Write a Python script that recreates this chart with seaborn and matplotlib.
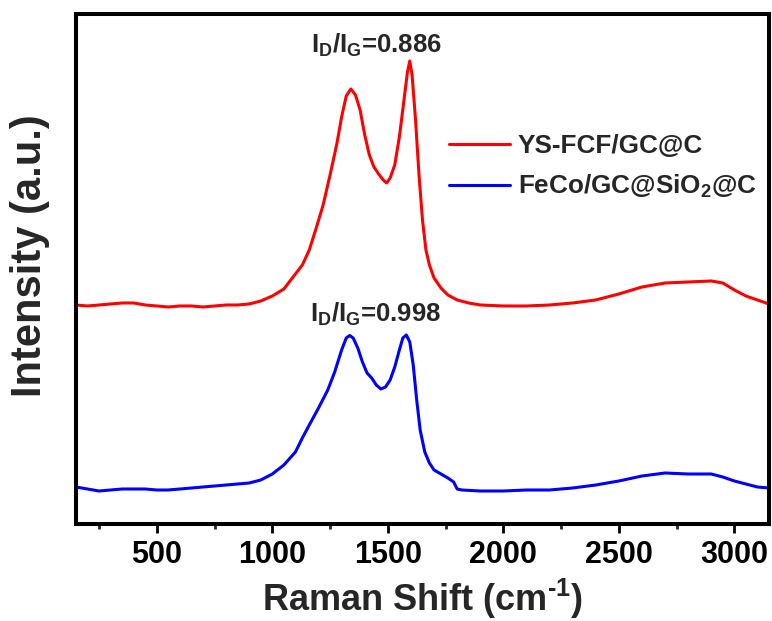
import matplotlib
matplotlib.use("Agg")
import matplotlib.pyplot as plt
from matplotlib.ticker import MultipleLocator, FixedLocator
import pandas as pd
import seaborn as sns

# Raman spectra (shift in cm^-1, intensity in arbitrary units)
shift_fcf = [150, 200, 250, 300, 350, 400, 450, 500, 550, 600, 650, 700, 750, 800,
             850, 900, 950, 1000, 1050, 1100, 1130, 1160, 1190, 1220, 1250, 1280,
             1300, 1320, 1340, 1360, 1380, 1400, 1420, 1440, 1460, 1480, 1495, 1510,
             1530, 1550, 1570, 1585, 1595, 1605, 1620, 1635, 1650, 1665, 1680, 1700,
             1730, 1760, 1800, 1850, 1900, 2000, 2100, 2200, 2300, 2400, 2500, 2600,
             2700, 2800, 2900, 2950, 3000, 3050, 3100, 3150]
int_fcf = [438, 436, 438, 440, 442, 442, 438, 436, 434, 436, 436, 434, 436, 438,
           438, 440, 446, 456, 470, 500, 518, 548, 592, 638, 698, 762,
           814, 856, 870, 858, 828, 778, 738, 714, 700, 688, 682, 692,
           718, 774, 848, 904, 926, 898, 808, 698, 608, 548, 518, 492,
           472, 458, 448, 442, 438, 436, 436, 438, 442, 448, 460, 474,
           482, 484, 486, 482, 468, 456, 448, 440]

shift_sio2 = [150, 200, 250, 300, 350, 400, 450, 500, 550, 600, 650, 700, 750, 800,
              850, 900, 950, 1000, 1050, 1100, 1130, 1160, 1200, 1240, 1270, 1300,
              1320, 1335, 1350, 1370, 1390, 1410, 1430, 1450, 1470, 1490, 1510, 1530,
              1550, 1565, 1580, 1595, 1610, 1625, 1640, 1660, 1680, 1700, 1730, 1760,
              1785, 1800, 1820, 1900, 2000, 2100, 2200, 2300, 2400, 2500, 2600, 2700,
              2800, 2900, 2950, 3000, 3050, 3100, 3150]
int_sio2 = [74, 70, 66, 68, 70, 70, 70, 68, 68, 70, 72, 74, 76, 78,
            80, 82, 88, 100, 118, 144, 172, 198, 232, 268, 304, 348,
            372, 377, 372, 352, 324, 302, 292, 278, 270, 274, 288, 314,
            348, 372, 378, 364, 318, 248, 188, 144, 122, 108, 100, 92,
            84, 70, 68, 66, 66, 68, 68, 72, 78, 86, 96, 102,
            100, 100, 94, 86, 80, 74, 72]

sample_names = ["YS-FCF/GC@C", "FeCo/GC@SiO$_2$@C"]
sample_colors = ["#ff0000", "#0000ff"]
id_ig_ratios = ["0.886", "0.998"]
x_tick_values = [500, 1000, 1500, 2000, 2500, 3000]

df = pd.concat([
    pd.DataFrame({"shift": shift_fcf, "intensity": int_fcf, "sample": sample_names[0]}),
    pd.DataFrame({"shift": shift_sio2, "intensity": int_sio2, "sample": sample_names[1]}),
], ignore_index=True)

sns.set_style("ticks")
plt.rcParams["font.family"] = ["Liberation Sans", "DejaVu Sans"]
plt.rcParams["font.weight"] = "bold"
plt.rcParams["mathtext.fontset"] = "custom"
plt.rcParams["mathtext.rm"] = "Liberation Sans:bold"
plt.rcParams["mathtext.it"] = "Liberation Sans:bold"
plt.rcParams["mathtext.bf"] = "Liberation Sans:bold"
plt.rcParams["mathtext.sf"] = "Liberation Sans:bold"

fig = plt.figure(figsize=(7.72, 6.21), dpi=100)
ax = fig.add_axes([0.0984, 0.1562, 0.8977, 0.8213])

sns.lineplot(data=df, x="shift", y="intensity", hue="sample",
             hue_order=sample_names, palette=sample_colors,
             linewidth=2.2, ax=ax, legend=True)

ax.set_xlim(150, 3150)
ax.set_ylim(0, 1020)
ax.xaxis.set_major_locator(FixedLocator(x_tick_values))
ax.xaxis.set_minor_locator(MultipleLocator(250))
ax.set_yticks([])

for side in ["left", "right", "top", "bottom"]:
    ax.spines[side].set_visible(True)
    ax.spines[side].set_linewidth(2.9)
    ax.spines[side].set_color("black")

ax.tick_params(axis="x", which="major", direction="out", length=6.3, width=2.0,
               labelsize=22, pad=5, colors="black")
ax.tick_params(axis="x", which="minor", direction="out", length=3.6, width=2.0)
for lab in ax.get_xticklabels():
    lab.set_fontweight("bold")

ax.set_xlabel(r"Raman Shift (cm$^{\text{-1}}$)", fontsize=26, fontweight="bold", labelpad=5)
ax.set_ylabel("Intensity (a.u.)", fontsize=30, fontweight="bold")
ax.yaxis.set_label_coords(-0.037, 0.527)

handles, labels = ax.get_legend_handles_labels()
leg = ax.legend(handles, labels, loc="upper left", bbox_to_anchor=(0.538, 0.764),
                frameon=False, fontsize=18.8, handlelength=2.35, handletextpad=0.3,
                labelspacing=0.55, borderpad=0, borderaxespad=0)
for line in leg.get_lines():
    line.set_linewidth(2.2)

ax.text(1450, 942, f"I$_D$/I$_G$={id_ig_ratios[0]}", ha="center", va="baseline",
        fontsize=18.5, fontweight="bold")
ax.text(1445, 404, f"I$_D$/I$_G$={id_ig_ratios[1]}", ha="center", va="baseline",
        fontsize=18.5, fontweight="bold")

fig.savefig("out.png", dpi=100)
